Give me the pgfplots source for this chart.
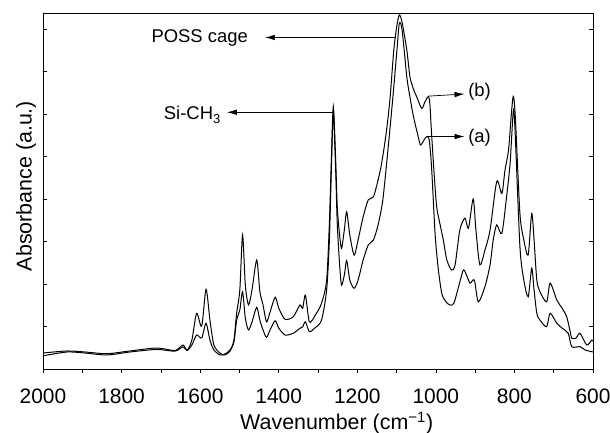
\documentclass[border=0pt]{standalone}
\usepackage{fontspec}
\setmainfont{Liberation Sans}
\usepackage{pgfplots}
\pgfplotsset{compat=1.18}
\usetikzlibrary{arrows.meta}

\begin{document}
\begin{tikzpicture}
% fixed page: 610 x 433 with the axis box at (43,64)
\path[use as bounding box] (-43bp,-64bp) rectangle (567bp,369bp);
\begin{axis}[
    at={(0,0)}, anchor=south west,
    scale only axis,
    width=550bp, height=356bp,
    x dir=reverse,
    xmin=600, xmax=2000,
    ymin=0, ymax=8.376,
    xtick={600,800,...,2000},
    minor x tick num=1,
    ytick={1,...,8}, yticklabels={},
    xtick pos=left,
    xtick align=outside,
    ytick align=inside,
    major tick length=4bp, minor tick length=4bp,
    axis line style={line width=0.9bp},
    every tick/.style={black, line width=0.7bp},
    /pgf/number format/assume math mode=true,
    /pgf/number format/1000 sep={},
    xticklabel style={font=\fontsize{21}{24}\selectfont, anchor=base, yshift=-30bp},
    xlabel={Wavenumber (cm\textsuperscript{−1})},
    ylabel={Absorbance (a.u.)},
    label style={font=\fontsize{21.5}{25}\selectfont},
    xlabel style={at={(axis description cs:0.534,-0.170)}, anchor=base},
    ylabel style={at={(axis description cs:-0.0205,0.514)}, anchor=base},
    clip=false,
    spectrum/.style={black, line width=1bp, smooth, tension=0.45},
]
% curve (a)
\addplot[spectrum] coordinates {
(2000,0.31)(1939,0.40)(1893,0.376)(1837,0.33)(1779,0.40)(1710,0.46)(1664,0.42)(1644,0.52)(1633,0.435)(1621,0.565)
(1609,0.80)(1596,0.73)(1585,1.075)(1575,0.68)(1565,0.447)(1549,0.33)(1537,0.353)(1524,0.447)(1514,0.635)(1507,1.15)
(1499,1.39)(1492,1.82)(1485,1.20)(1477,0.92)(1468,1.106)(1456,1.45)(1448,1.15)(1440,0.92)(1431,0.746)(1422,0.92)
(1409,1.136)(1400,0.965)(1384,0.80)(1363,0.84)(1346,0.958)(1339,0.99)(1332,1.11)(1322,0.88)(1308,0.965)(1291,1.15)
(1278,1.86)(1271,3.035)(1266,4.68)(1261,6.02)(1255,4.68)(1251,3.435)(1245,2.45)(1240,1.976)(1233,2.21)(1227,2.55)
(1219,2.09)(1208,1.90)(1198,2.09)(1185,2.565)(1172,2.92)(1159,3.035)(1147,3.39)(1135,3.98)(1122,5.15)(1110,6.33)
(1099,7.51)(1093,8.13)(1086,7.98)(1074,6.88)(1066,6.40)(1057,5.94)(1045,5.47)(1039,5.27)(1030,5.39)(1023,5.47)
(1017,5.39)(1011,4.76)(1002,3.19)(995,2.45)(985,1.78)(974,1.58)(964,1.506)(954,1.55)(941,1.976)(930,2.33)
(922,2.21)(913,2.02)(902,2.09)(892,1.58)(875,1.94)(862,2.45)(854,3.035)(845,3.39)(832,3.19)(820,4.05)
(811,4.84)(803,6.05)(799,5.74)(786,2.88)(776,2.09)(765,1.70)(756,2.37)(750,1.86)(743,1.31)(735,1.15)
(718,0.995)(709,1.31)(692,1.075)(679,0.965)(663,0.84)(654,0.525)(633,0.525)(620,0.447)(603,0.407)(600,0.40)
};
% curve (b)
\addplot[spectrum] coordinates {
(2000,0.376)(1939,0.424)(1893,0.40)(1837,0.36)(1779,0.424)(1710,0.494)(1664,0.435)(1644,0.565)(1633,0.447)(1621,0.68)
(1609,1.31)(1596,1.01)(1585,1.875)(1575,1.15)(1565,0.565)(1549,0.37)(1537,0.33)(1524,0.42)(1514,0.68)(1507,1.32)
(1499,1.86)(1492,3.15)(1485,1.98)(1477,1.51)(1468,1.86)(1456,2.565)(1448,1.82)(1440,1.51)(1431,1.11)(1422,1.34)
(1409,1.69)(1400,1.435)(1384,1.17)(1363,1.23)(1346,1.506)(1339,1.43)(1332,1.74)(1322,1.11)(1308,1.25)(1291,1.546)
(1278,2.09)(1271,3.435)(1266,4.92)(1261,6.18)(1255,4.92)(1251,3.82)(1245,3.15)(1240,2.84)(1233,3.27)(1227,3.70)
(1219,3.15)(1208,2.68)(1198,3.035)(1185,3.58)(1172,3.98)(1159,4.05)(1147,4.45)(1138,4.84)(1127,5.51)(1117,6.33)
(1107,7.51)(1099,8.09)(1093,8.33)(1086,8.16)(1074,7.51)(1066,6.88)(1058,6.61)(1049,6.41)(1036,6.13)(1028,6.28)
(1019,6.41)(1015,6.21)(1011,5.55)(1005,4.68)(998,3.82)(989,3.39)(981,3.035)(972,2.565)(960,2.33)(951,2.45)
(939,3.27)(926,3.55)(917,3.31)(905,4.0)(898,3.27)(888,2.45)(875,2.8)(862,3.27)(845,4.41)(832,4.13)
(824,4.68)(815,5.15)(808,5.98)(803,6.41)(798,5.98)(786,3.66)(776,3.035)(765,2.68)(756,3.66)(750,3.035)
(743,2.09)(735,1.82)(718,1.58)(709,2.02)(692,1.62)(679,1.435)(667,1.23)(658,0.88)(654,0.72)(643,0.73)
(633,0.84)(616,0.565)(603,0.68)(600,0.66)
};
% annotations
\draw[-{Latex[length=10bp,width=5.5bp]}, line width=0.7bp] (axis cs:1104,7.80) -- (axis cs:1435,7.80);
\node[anchor=base east, inner sep=0pt, font=\fontsize{18.5}{22}\selectfont] at (axis cs:1478,7.68) {POSS cage};
\draw[-{Latex[length=10bp,width=5.5bp]}, line width=0.7bp] (axis cs:1262,6.04) -- (axis cs:1532,6.04);
\node[anchor=base east, inner sep=0pt, font=\fontsize{18.5}{22}\selectfont] at (axis cs:1547,5.86) {Si-CH\textsubscript{3}};
\draw[-{Latex[length=10bp,width=5.5bp]}, line width=0.7bp] (axis cs:1019,6.42) -- (axis cs:927,6.47);
\node[anchor=base west, inner sep=0pt, font=\fontsize{18.5}{22}\selectfont] at (axis cs:918,6.42) {(b)};
\draw[-{Latex[length=10bp,width=5.5bp]}, line width=0.7bp] (axis cs:1019,5.47) -- (axis cs:927,5.47);
\node[anchor=base west, inner sep=0pt, font=\fontsize{18.5}{22}\selectfont] at (axis cs:918,5.32) {(a)};
\end{axis}
\end{tikzpicture}
\end{document}
